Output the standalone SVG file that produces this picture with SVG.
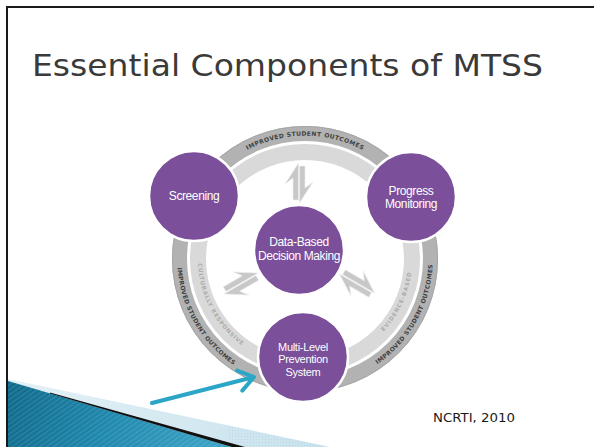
<svg xmlns="http://www.w3.org/2000/svg" width="594" height="447" viewBox="0 0 594 447">
  <style>
    .title { font-family: "DejaVu Sans", "Liberation Sans", sans-serif; font-size: 30px; fill: #3a3a3a; }
    .cite { font-family: "DejaVu Sans", "Liberation Sans", sans-serif; font-size: 13px; fill: #1a1a1a; }
    .node circle { fill: #7b4f9a; stroke: #ffffff; stroke-width: 2.5; }
    .node text { font-family: "Liberation Sans", Arial, sans-serif; font-size: 12px; fill: #ffffff; text-anchor: middle; letter-spacing: -0.4px; }
    .node text.small { font-size: 11px; letter-spacing: -0.3px; }
    .band-dark { fill: none; stroke: #b2b2b2; stroke-width: 15; }
    .band-light { fill: none; stroke: #d9d9d9; stroke-width: 16; }
    .band-text-dark { font-family: "DejaVu Sans", sans-serif; font-size: 6px; font-weight: bold; fill: #3f3f3f; }
    .band-text-light { font-family: "DejaVu Sans", sans-serif; font-size: 5.5px; font-weight: bold; fill: #ababab; }
    .harpoon { fill: #c8c8c8; stroke: #eeeeee; stroke-width: 0.6; }
    .pointer { fill: none; stroke: #2ca6c6; stroke-width: 4; stroke-linecap: round; stroke-linejoin: round; }
  </style>
  <defs>
    <linearGradient id="wedgeFill" x1="8" y1="381" x2="210" y2="447" gradientUnits="userSpaceOnUse">
      <stop offset="0" stop-color="#0f6a8a"/>
      <stop offset="0.5" stop-color="#1f88ad"/>
      <stop offset="1" stop-color="#3aa2c4"/>
    </linearGradient>
    <linearGradient id="stripFill" x1="8" y1="380" x2="330" y2="447" gradientUnits="userSpaceOnUse">
      <stop offset="0" stop-color="#e4f1f6"/>
      <stop offset="1" stop-color="#c8e2ed"/>
    </linearGradient>
    <pattern id="stripes" width="4" height="4" patternUnits="userSpaceOnUse" patternTransform="rotate(-35)">
      <rect width="4" height="1.2" fill="#ffffff" opacity="0.12"/>
    </pattern>
    <pattern id="dots" width="3" height="3" patternUnits="userSpaceOnUse">
      <circle cx="1.5" cy="1.5" r="0.7" fill="#b6d7e6"/>
    </pattern>
    <!-- pair of opposing harpoons, pointing up from the hub centre -->
    <g id="harpoons">
      <polygon class="harpoon" points="-0.5,-87 -0.5,-50 -6,-50 -6,-72 -14,-66"/>
      <polygon class="harpoon" points="0.5,-47 0.5,-84 6,-84 6,-62 14,-68"/>
    </g>
  </defs>

  <rect width="594" height="447" fill="#ffffff"/>

  <!-- slide frame -->
  <path d="M7,447 V7 H594" fill="none" stroke="#1a1a1a" stroke-width="2"/>

  <text class="title" x="32" y="76" textLength="511" lengthAdjust="spacingAndGlyphs">Essential Components of MTSS</text>

  <!-- rings -->
  <g id="rings">
    <circle class="band-dark" cx="305" cy="259" r="125.5"/>
    <circle cx="305" cy="259" r="132.5" fill="none" stroke="#a6a6a6" stroke-width="1"/>
    <circle class="band-light" cx="305" cy="259" r="107"/>
    <path id="arcTop" d="M183.57,237.59 A123.3,123.3 0 0 1 426.43,237.59" fill="none"/>
    <path id="arcLeft" d="M185.0,215.3 A127.7,127.7 0 0 0 282.83,384.76" fill="none"/>
    <path id="arcRight" d="M329.37,384.35 A127.7,127.7 0 0 0 424.22,213.23" fill="none"/>
    <path id="arcInLeft" d="M205.81,218.94 A107,107 0 0 0 282.76,363.67" fill="none"/>
    <path id="arcInRight" d="M332.69,362.35 A107,107 0 0 0 401.97,213.79" fill="none"/>
    <text class="band-text-dark"><textPath href="#arcTop" startOffset="50%" text-anchor="middle" textLength="120" lengthAdjust="spacing">IMPROVED STUDENT OUTCOMES</textPath></text>
    <text class="band-text-dark"><textPath href="#arcLeft" startOffset="50%" text-anchor="middle" textLength="116" lengthAdjust="spacing">IMPROVED STUDENT OUTCOMES</textPath></text>
    <text class="band-text-dark"><textPath href="#arcRight" startOffset="50%" text-anchor="middle" textLength="118" lengthAdjust="spacing">IMPROVED STUDENT OUTCOMES</textPath></text>
    <text class="band-text-light"><textPath href="#arcInLeft" startOffset="50%" text-anchor="middle" textLength="96" lengthAdjust="spacing">CULTURALLY RESPONSIVE</textPath></text>
    <text class="band-text-light"><textPath href="#arcInRight" startOffset="50%" text-anchor="middle" textLength="66" lengthAdjust="spacing">EVIDENCE-BASED</textPath></text>
  </g>

  <!-- connectors: two-way arrows from the hub, plus the pointer -->
  <g id="connectors">
    <use href="#harpoons" transform="translate(299,250)"/>
    <use href="#harpoons" transform="translate(299,250) rotate(-120)"/>
    <use href="#harpoons" transform="translate(299,250) rotate(120)"/>
    <path class="pointer" d="M152,403 L254,377 M237.2,370.6 L254,377 L242.3,390.6"/>
  </g>

  <g id="screening" class="node">
    <circle cx="194" cy="196" r="45"/>
    <text x="194" y="200">Screening</text>
  </g>
  <g id="progress-monitoring" class="node">
    <circle cx="411" cy="197" r="45"/>
    <text x="411" y="194.5">Progress</text>
    <text x="411" y="208">Monitoring</text>
  </g>
  <g id="data-based" class="node">
    <circle cx="299" cy="250" r="45"/>
    <text x="299" y="245.5">Data-Based</text>
    <text x="299" y="259.5">Decision Making</text>
  </g>
  <g id="multi-level" class="node">
    <circle cx="303" cy="357" r="45"/>
    <text class="small" x="303" y="350.5">Multi-Level</text>
    <text class="small" x="303" y="363">Prevention</text>
    <text class="small" x="303" y="375.5">System</text>
  </g>

  <!-- corner decoration -->
  <g id="corner">
    <polygon points="8,379 330,447 8,447" fill="url(#stripFill)"/>
    <polygon points="228,426 330,447 228,447" fill="url(#dots)" opacity="0.8"/>
    <polygon points="8,381 232,447 8,447" fill="url(#wedgeFill)"/>
    <polygon points="8,381 232,447 8,447" fill="url(#stripes)"/>
    <polygon points="50,392.6 245,447 232,447 50,393.4" fill="#111111"/>
  </g>

  <text class="cite" x="433" y="422" textLength="82" lengthAdjust="spacingAndGlyphs">NCRTI, 2010</text>
</svg>
